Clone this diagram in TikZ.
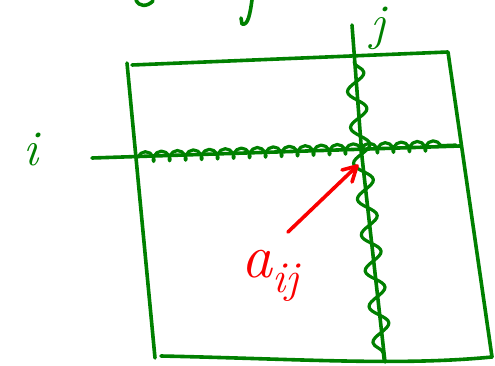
\documentclass[tikz,border=0pt]{standalone}
\usetikzlibrary{decorations.pathmorphing}
\definecolor{pen}{RGB}{0,128,0}
\definecolor{redpen}{RGB}{250,0,0}
\begin{document}
\begin{tikzpicture}[x=1pt,y=-1pt,line cap=round,line join=round,
  ink/.style={draw=pen,line width=3.6pt},
  redink/.style={draw=redpen,line width=3.6pt},
  rowwave/.style={draw=pen,line width=3.2pt,decorate,
    decoration={coil,amplitude=5pt,segment length=16pt,aspect=0.7}},
  colwave/.style={draw=pen,line width=3.2pt,decorate,
    decoration={snake,amplitude=9pt,segment length=36pt}},
  lab/.style={inner sep=0pt}]
\useasboundingbox (0,0) rectangle (495,366);
% square corners
\coordinate (tl) at (127,63);
\coordinate (t0) at (132,65);
\coordinate (tr) at (448,52);
\coordinate (br) at (492,357);
\coordinate (bl) at (155,358);
\coordinate (b0) at (161,356);
% square
\draw[ink] (t0) -- (tr) -- (br);
\draw[ink] (tl) -- (bl);
\draw[ink] (b0) .. controls (300,359) and (400,366) .. (br);
% row i
\coordinate (r0) at (92,158);
\coordinate (r1) at (460,146);
\coordinate (rw0) at (138,157);
\coordinate (rw1) at (456,145);
\draw[ink] (r0) -- (r1);
\draw[rowwave] (rw0) -- (rw1);
% column j
\coordinate (c0) at (352,25);
\coordinate (cm) at (362,157);
\coordinate (c1) at (385,362);
\coordinate (cw0) at (354,62);
\coordinate (cw1) at (384,360);
\draw[ink] (c0) -- (cm) -- (c1);
\draw[colwave] (cw0) -- (cm) -- (cw1);
% labels
\node[lab,text=pen,font=\fontsize{50}{50}\selectfont\itshape] (ilab) at (31,150) {i};
\node[lab,text=pen,font=\fontsize{50}{50}\selectfont\itshape] (jlab) at (378,28) {j};
\node[lab,text=redpen,font=\fontsize{62}{62}\selectfont\itshape] (alab) at (270,276)
  {a\raisebox{-0.25em}{\fontsize{44}{44}\selectfont ij}};
% arrow
\coordinate (as) at (288,232);
\coordinate (tip) at (357,166);
\coordinate (h1) at (342,170);
\coordinate (h2) at (352,182);
\draw[redink] (as) -- (tip);
\draw[redink] (h1) -- (tip) -- (h2);
% partial strokes at top edge
\coordinate (p0) at (136,0);
\coordinate (p1) at (153,1);
\draw[ink] (p0) .. controls (139,7) and (147,7) .. (p1);
\coordinate (q0) at (252,0);
\coordinate (q1) at (241,18);
\draw[ink] (q0) .. controls (250,14) and (248,26) .. (242,24) -- (q1);
\end{tikzpicture}
\end{document}
